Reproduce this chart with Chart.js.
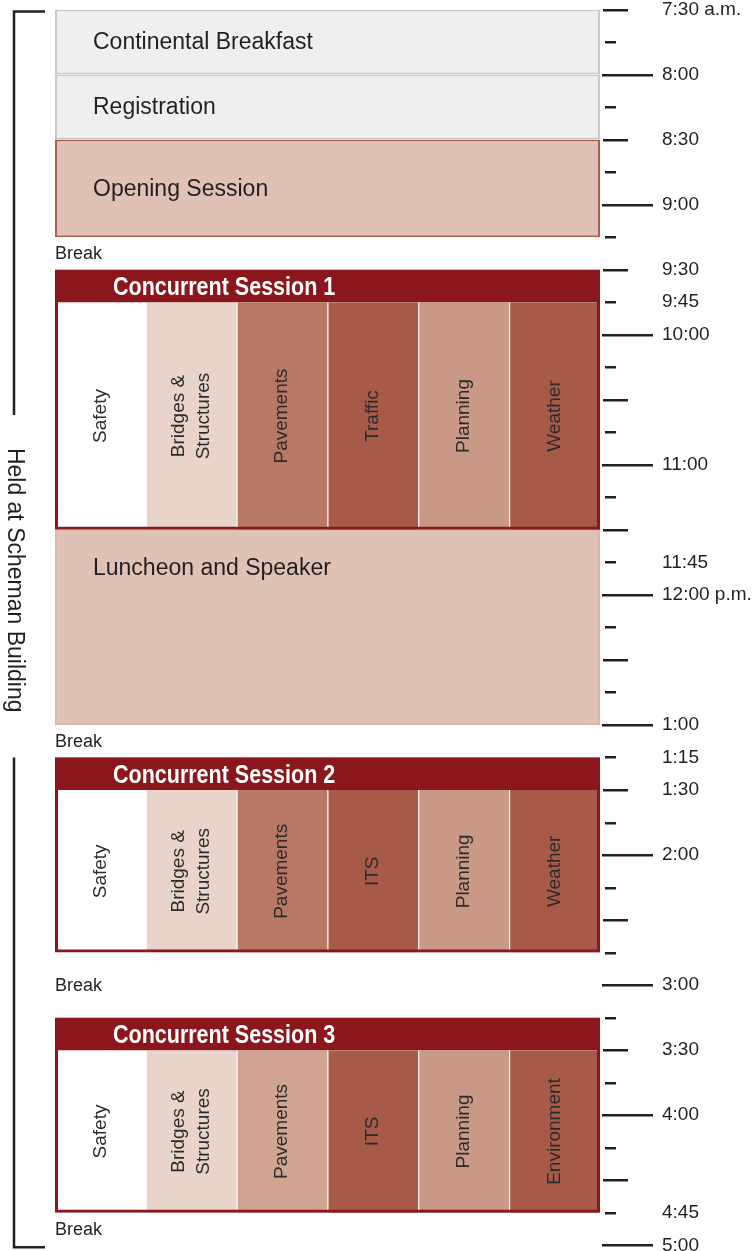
<!DOCTYPE html>
<html>
<head>
<meta charset="utf-8">
<script src="https://cdn.jsdelivr.net/npm/chart.js@4.4.1/dist/chart.umd.min.js"></script>
<style>
  html, body { margin: 0; padding: 0; background: #fff; }
  #wrap { width: 755px; height: 1251px; }
</style>
</head>
<body>
<div id="wrap"><canvas id="schedule" width="755" height="1251"></canvas></div>
<script>
// all times "HH:MM", 24h clock
const blockNames = ['Continental Breakfast', 'Registration', 'Opening Session', 'Luncheon and Speaker'];
const blockStart = ['07:30', '08:00', '08:30', '11:30'];
const blockEnd   = ['08:00', '08:30', '09:15', '13:00'];

const tracks = ['Track 1', 'Track 2', 'Track 3', 'Track 4', 'Track 5', 'Track 6'];
const sessionNames = ['Concurrent Session 1', 'Concurrent Session 2', 'Concurrent Session 3'];
const sessionStart = ['09:30', '13:15', '15:15'];
const topicsStart  = ['09:45', '13:30', '15:30'];
const sessionEnd   = ['11:30', '14:45', '16:45'];
const sessionTopics = [
  ['Safety', 'Bridges & Structures', 'Pavements', 'Traffic', 'Planning', 'Weather'],
  ['Safety', 'Bridges & Structures', 'Pavements', 'ITS', 'Planning', 'Weather'],
  ['Safety', 'Bridges & Structures', 'Pavements', 'ITS', 'Planning', 'Environment']
];

const breakStart = ['09:15', '13:00', '14:45', '16:45'];
const breakEnd   = ['09:30', '13:15', '15:15', '17:00'];

const tickTimes  = ['07:30', '08:00', '08:30', '09:00', '09:30', '09:45', '10:00', '11:00', '11:45', '12:00',
                    '13:00', '13:15', '13:30', '14:00', '15:00', '15:30', '16:00', '16:45', '17:00'];
const tickLabels = ['7:30 a.m.', '8:00', '8:30', '9:00', '9:30', '9:45', '10:00', '11:00', '11:45', '12:00 p.m.',
                    '1:00', '1:15', '1:30', '2:00', '3:00', '3:30', '4:00', '4:45', '5:00'];

const venue = 'Held at Scheman Building';

// colours
const maroon = '#8b161b';
const ink = '#231f20';
const blockFill = ['#eef0ef', '#eef0ef', '#dfc1b5', '#dfc2b6'];
const blockLine = ['#c9cbca', '#c9cbca', '#ad5e4e', '#dcb6a8'];
const topicFill = [
  ['#ffffff', '#e8d4ca', '#b87866', '#a75a48', '#c99886', '#a75a48'],
  ['#ffffff', '#e8d4ca', '#b87866', '#a75a48', '#c99886', '#a75a48'],
  ['#ffffff', '#e8d4ca', '#d1a392', '#a75a48', '#c99886', '#a75a48']
];

const FONT = '"Liberation Sans", Arial, sans-serif';

function toMin(t) {
  const [h, m] = t.split(':').map(Number);
  return h * 60 + m;
}

const dayStart = toMin('07:30');
const dayEnd = toMin('17:00');
const quarterTicks = [];
for (let v = dayStart; v <= dayEnd; v += 15) quarterTicks.push(v);
const labelMins = tickTimes.map(toMin);

// full-width boxes: blocks, session headers, session frames
const fullData = [], fullFill = [], fullLine = [], fullWidth = [];
blockNames.forEach((n, i) => {
  fullData.push({ x: 'day', y: [toMin(blockStart[i]), toMin(blockEnd[i])] });
  fullFill.push(blockFill[i]);
  fullLine.push(blockLine[i]);
  fullWidth.push(2);
});
sessionNames.forEach((n, i) => {
  fullData.push({ x: 'day', y: [toMin(sessionStart[i]), toMin(topicsStart[i])] });
  fullFill.push(maroon);
  fullLine.push(maroon);
  fullWidth.push(0);
});
sessionNames.forEach((n, i) => {
  fullData.push({ x: 'day', y: [toMin(sessionStart[i]), toMin(sessionEnd[i])] });
  fullFill.push('rgba(0,0,0,0)');
  fullLine.push(maroon);
  fullWidth.push(3);
});

const datasets = [{
  label: 'blocks',
  xAxisID: 'x2',
  order: 0,
  data: fullData,
  backgroundColor: fullFill,
  borderColor: fullLine,
  borderWidth: fullWidth
}];

// one dataset per concurrent session, one bar per track
sessionNames.forEach((n, s) => {
  datasets.push({
    label: n,
    xAxisID: 'x',
    order: 1,
    data: tracks.map(t => ({ x: t, y: [toMin(topicsStart[s]), toMin(sessionEnd[s])] })),
    backgroundColor: topicFill[s],
    borderColor: 'rgba(255,255,255,0.3)',
    borderWidth: ctx => ({ left: ctx.dataIndex === 0 ? 0 : 1, right: 0, top: 0, bottom: 0 })
  });
});

function box(el) {
  return {
    top: Math.min(el.y, el.base),
    bottom: Math.max(el.y, el.base),
    left: el.x - el.width / 2,
    cx: el.x
  };
}

const textPlugin = {
  id: 'scheduleText',
  afterDatasetsDraw(chart) {
    const ctx = chart.ctx;
    const full = chart.getDatasetMeta(0).data;
    ctx.save();
    ctx.textBaseline = 'middle';

    // block names
    ctx.font = '23px ' + FONT;
    ctx.fillStyle = ink;
    ctx.textAlign = 'left';
    blockNames.forEach((n, i) => {
      const b = box(full[i]);
      const ty = (b.bottom - b.top) > 150 ? b.top + 39 : (b.top + b.bottom) / 2 + 1;
      ctx.fillText(n, b.left + 38, ty);
    });

    // session headers
    sessionNames.forEach((n, s) => {
      const b = box(full[blockNames.length + s]);
      ctx.save();
      ctx.translate(b.left + 58, (b.top + b.bottom) / 2 + 2);
      ctx.scale(0.86, 1);
      ctx.font = 'bold 25px ' + FONT;
      ctx.fillStyle = '#ffffff';
      ctx.fillText(n, 0, 0);
      ctx.restore();
    });

    // track names, rotated
    ctx.font = '19px ' + FONT;
    ctx.fillStyle = '#2b2b2b';
    ctx.textAlign = 'center';
    sessionTopics.forEach((topics, s) => {
      const meta = chart.getDatasetMeta(1 + s);
      topics.forEach((topic, c) => {
        const b = box(meta.data[c]);
        const lines = topic.replace('& ', '&\n').split('\n');
        ctx.save();
        ctx.translate(b.cx, (b.top + b.bottom) / 2);
        ctx.rotate(-Math.PI / 2);
        lines.forEach((ln, k) => ctx.fillText(ln, 0, (k - (lines.length - 1) / 2) * 25));
        ctx.restore();
      });
    });

    // breaks
    const y = chart.scales.y;
    ctx.font = '18px ' + FONT;
    ctx.fillStyle = ink;
    ctx.textAlign = 'left';
    breakStart.forEach((t, i) => {
      const py = (y.getPixelForValue(toMin(t)) + y.getPixelForValue(toMin(breakEnd[i]))) / 2 + 1;
      ctx.fillText('Break', chart.chartArea.left, py);
    });
    ctx.restore();
  },
  afterDraw(chart) {
    const ctx = chart.ctx;
    const y = chart.scales.y;
    const right = chart.chartArea.right;
    ctx.save();
    ctx.strokeStyle = ink;
    ctx.lineWidth = 2.5;

    // tick marks: hour long, half-hour medium, quarter short
    quarterTicks.forEach(v => {
      const py = Math.round(y.getPixelForValue(v)) + 0.25;
      let x0 = right + 5, len = 11;
      if (v % 60 === 0) { x0 = right + 2; len = 51; }
      else if (v % 30 === 0) { x0 = right + 3; len = 25; }
      ctx.beginPath();
      ctx.moveTo(x0, py);
      ctx.lineTo(x0 + len, py);
      ctx.stroke();
    });

    // bracket on the left
    const bx = 14;
    const top = y.getPixelForValue(dayStart) + 2;
    const bottom = y.getPixelForValue(dayEnd) + 2;
    const gapTop = y.getPixelForValue(toMin('10:37'));
    const gapBottom = y.getPixelForValue(toMin('13:15'));
    ctx.beginPath();
    ctx.moveTo(45, top);
    ctx.lineTo(bx, top);
    ctx.lineTo(bx, gapTop);
    ctx.moveTo(bx, gapBottom);
    ctx.lineTo(bx, bottom);
    ctx.lineTo(45, bottom);
    ctx.stroke();

    ctx.save();
    ctx.translate(bx, (gapTop + gapBottom) / 2 - 6);
    ctx.rotate(Math.PI / 2);
    ctx.font = '23px ' + FONT;
    ctx.fillStyle = ink;
    ctx.textAlign = 'center';
    ctx.textBaseline = 'middle';
    ctx.fillText(venue, 0, 0);
    ctx.restore();

    ctx.restore();
  }
};

new Chart(document.getElementById('schedule'), {
  type: 'bar',
  data: { datasets: datasets },
  options: {
    responsive: false,
    animation: false,
    events: [],
    layout: { padding: { left: 55, top: 9.5, right: 0, bottom: 5.7 } },
    datasets: {
      bar: {
        grouped: false,
        categoryPercentage: 1,
        barPercentage: 1,
        borderSkipped: false,
        inflateAmount: 0
      }
    },
    plugins: { legend: { display: false }, tooltip: { enabled: false } },
    scales: {
      x: { type: 'category', labels: tracks, display: false, offset: true },
      x2: { type: 'category', labels: ['day'], display: false, offset: true },
      y: {
        type: 'linear',
        position: 'right',
        reverse: true,
        min: dayStart,
        max: dayEnd,
        stacked: false,
        afterBuildTicks: s => { s.ticks = quarterTicks.map(v => ({ value: v })); },
        afterFit: s => { s.width = 155; s.paddingTop = 0; s.paddingBottom = 0; },
        grid: { drawOnChartArea: false, drawTicks: true, tickLength: 62, tickColor: 'rgba(0,0,0,0)' },
        border: { display: false },
        ticks: {
          autoSkip: false,
          padding: 0,
          color: ink,
          font: { family: FONT, size: 19, lineHeight: 1 },
          callback: v => {
            const i = labelMins.indexOf(v);
            return i >= 0 ? tickLabels[i] : '';
          }
        }
      }
    }
  },
  plugins: [textPlugin]
});
</script>
</body>
</html>
